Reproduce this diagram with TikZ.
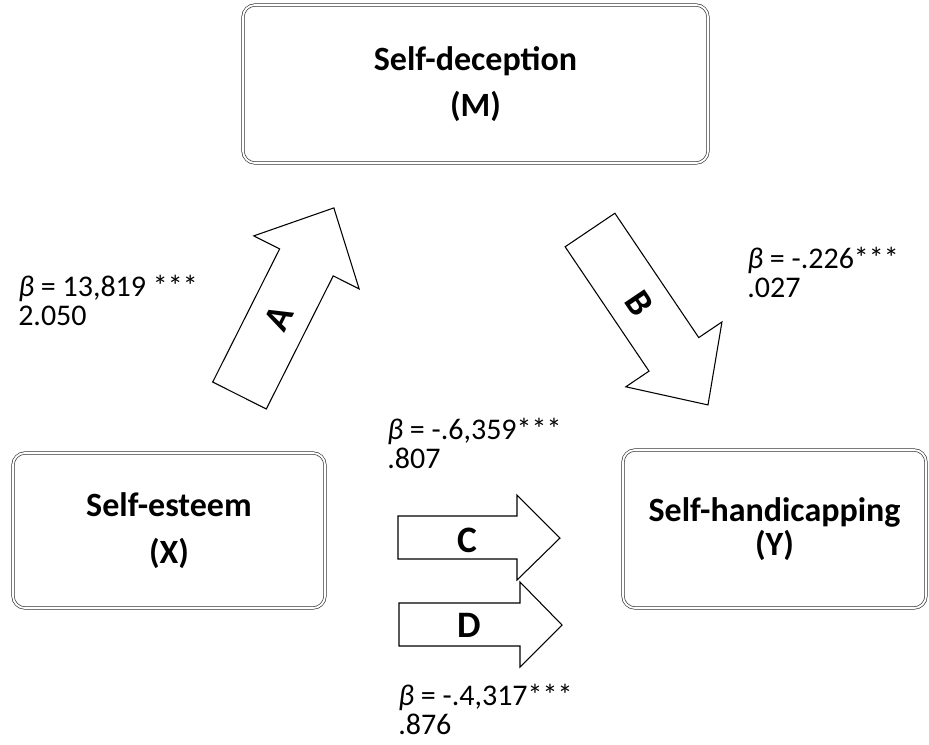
\documentclass[tikz,border=0pt]{standalone}
\usepackage{fontspec}
\setmainfont{Carlito}
\usetikzlibrary{positioning}

\begin{document}
\begin{tikzpicture}[x=0.75pt,y=-0.75pt,
  varbox/.style={draw=black!80,line width=0.5pt,double,double distance=1.4pt,rounded corners=9pt,
    align=center,inner sep=0pt,font=\fontsize{25.5}{30}\selectfont\bfseries},
  coef/.style={anchor=north west,inner sep=0pt,align=left,font=\fontsize{22.5}{22}\selectfont},
  blk/.style={draw=black,line width=0.8pt,fill=white,line join=miter},
  blklbl/.style={font=\fontsize{28}{28}\selectfont\bfseries}]
\useasboundingbox (0,0) rectangle (929,744);

% variables
\node[varbox,minimum width=465*0.75pt,minimum height=158*0.75pt] (sdec) at (475.5,84) {Self-deception\\[4pt](M)};
\node[varbox,minimum width=312*0.75pt,minimum height=155*0.75pt] (sest) at (169,530.5) {Self-esteem\\[5pt](X)};
\node[varbox,minimum width=303*0.75pt,minimum height=158*0.75pt] (shand) at (774.5,529) {Self-handicapping\\[-4pt](Y)};

% path A
\begin{scope}[shift={(239.5,395.5)},rotate=63.3]
\draw[blk] (0,-30) -- (149,-30) -- (149,-59) -- (210,0) -- (149,59) -- (149,30) -- (0,30) -- cycle;
\node[blklbl,rotate=63.3] (pathA) at (87,0) {A};
\end{scope}

% path B
\begin{scope}[shift={(590,230)},rotate=-56]
\draw[blk] (0,-30) -- (150,-30) -- (150,-58) -- (211,0) -- (150,58) -- (150,30) -- (0,30) -- cycle;
\node[blklbl,rotate=-56] (pathB) at (88,0) {B};
\end{scope}

% paths C and D
\draw[blk] (398,516) -- (517,516) -- (517,495) -- (560,538) -- (517,580) -- (517,559) -- (398,559) -- cycle;
\node[blklbl] (pathC) at (467,540) {C};
\draw[blk] (399,603) -- (520,603) -- (520,582) -- (562,625) -- (520,667) -- (520,646) -- (399,646) -- cycle;
\node[blklbl] (pathD) at (469,625) {D};

% coefficients
\node[coef] (coefA) at (18,275) {\textit{β} = 13,819 ***\\2.050};
\node[coef] (coefB) at (747,247) {\textit{β} = -.226***\\.027};
\node[coef] (coefC) at (387,418) {\textit{β} = -.6,359***\\.807};
\node[coef] (coefD) at (398,684) {\textit{β} = -.4,317***\\.876};

\end{tikzpicture}
\end{document}
